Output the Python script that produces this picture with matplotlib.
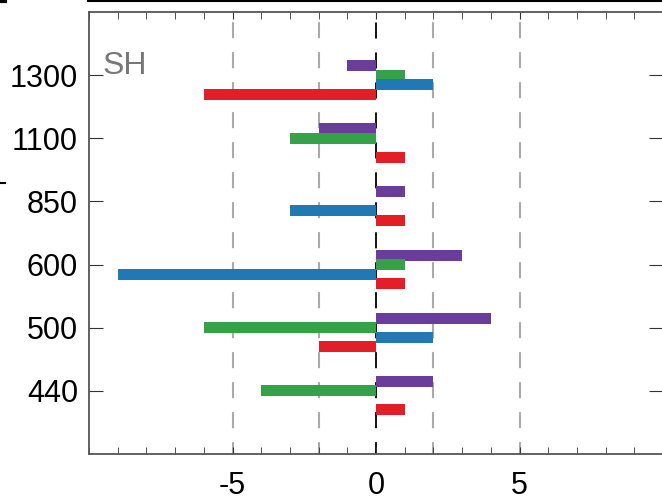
import numpy as np
import matplotlib
matplotlib.use('Agg')
import matplotlib.pyplot as plt
from matplotlib.lines import Line2D
from matplotlib.ticker import MultipleLocator

plt.rcParams['font.family'] = ['Liberation Sans', 'DejaVu Sans']
plt.rcParams['axes.unicode_minus'] = False

# 数据：每个高度层四个序列的值
levels = ['440', '500', '600', '850', '1100', '1300']
purple_vals = [2, 4, 3, 1, -2, -1]
green_vals = [-4, -6, 1, 0, -3, 1]
blue_vals = [0, 2, -9, -3, 0, 2]
red_vals = [1, -2, 1, 1, 1, -6]

c_purple = '#6a3d9a'
c_green = '#35a24a'
c_blue = '#2078b4'
c_red = '#e41e26'

fig = plt.figure(figsize=(6.62, 4.98), dpi=100)
ax = fig.add_axes([89 / 662, 1 - 454 / 498, (663 - 89) / 662, (454 - 12) / 498])

y = np.arange(len(levels))
h = 0.175
ax.barh(y + 0.15, purple_vals, height=h, color=c_purple, zorder=3)
ax.barh(y, green_vals, height=h, color=c_green, zorder=3)
ax.barh(y - 0.15, blue_vals, height=h, color=c_blue, zorder=3)
ax.barh(y - 0.30, red_vals, height=h, color=c_red, zorder=3)

# 参考虚线
for xv in [-5, -2, 2, 5]:
    ax.axvline(xv, color='#aaaaaa', lw=1.5, ls=(2, (7.7, 6.7)), zorder=1)
ax.axvline(0, color='black', lw=1.3, ls=(2.3, (8.9, 7.7)), zorder=1)

ax.set_xlim(-10, 10)
ax.set_ylim(-1, 6)
ax.set_xticks([-5, 0, 5])
ax.xaxis.set_minor_locator(MultipleLocator(1))
ax.set_yticks(y)
ax.set_yticklabels(levels)
ax.tick_params(axis='both', which='both', direction='in', labelsize=22,
               top=True, right=True, color='#333333')
ax.tick_params(axis='x', which='major', length=5, pad=12)
ax.tick_params(axis='x', which='minor', length=5)
ax.tick_params(axis='y', which='major', length=10, pad=8)
for s in ax.spines.values():
    s.set_color('#555555')
    s.set_linewidth(1.3)

ax.text(0.024, 0.877, 'SH', transform=ax.transAxes, fontsize=23,
        color='#777777', va='center', ha='left')

# 邻近子图残留的线段
fig.add_artist(Line2D([88 / 662, 1], [1 - 1 / 498, 1 - 1 / 498],
                      color='black', lw=1.5, transform=fig.transFigure))
fig.add_artist(Line2D([0, 5 / 662], [1 - 1 / 498, 1 - 1 / 498],
                      color='black', lw=3, transform=fig.transFigure))
fig.add_artist(Line2D([0, 5 / 662], [1 - 183 / 498, 1 - 183 / 498],
                      color='black', lw=1.5, transform=fig.transFigure))

fig.savefig('out.png', dpi=100)
